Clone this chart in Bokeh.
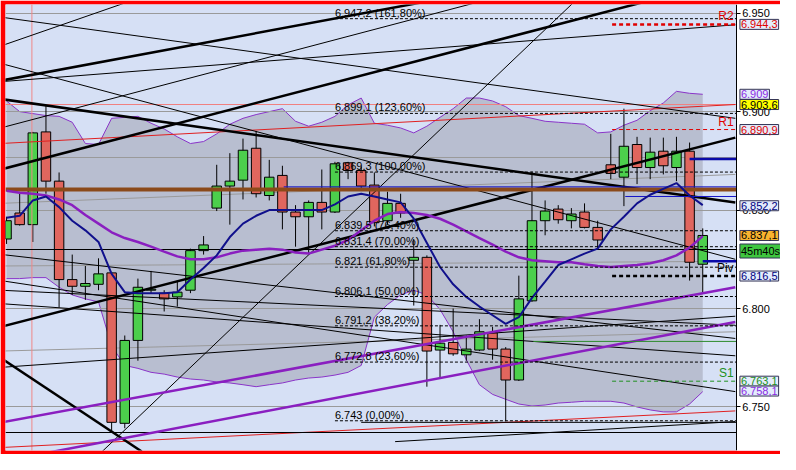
from bokeh.plotting import figure
from bokeh.models import Range1d, LinearAxis, FixedTicker, PrintfTickFormatter, Label
from bokeh.core.properties import value
from bokeh.embed import file_html
from bokeh.resources import INLINE

# ---------------- data ----------------
opens = [6.8353, 6.8485, 6.8426, 6.8897, 6.8647, 6.8147, 6.8113, 6.8123, 6.8181, 6.7417,
         6.7838, 6.8093, 6.8078, 6.8059, 6.8093, 6.8294, 6.8510, 6.8622, 6.8652, 6.8814,
         6.8574, 6.8676, 6.8490, 6.8466, 6.8539, 6.8490, 6.8740, 6.8701, 6.8627, 6.8446,
         6.8534, 6.8245, 6.8260, 6.7789, 6.7828, 6.7765, 6.7789, 6.7877, 6.7794, 6.7637,
         6.8039, 6.8446, 6.8505, 6.8446, 6.8490, 6.8412, 6.8730, 6.8667, 6.8833, 6.8716,
         6.8799, 6.8716, 6.8799, 6.8225]
highs = [6.8466, 6.8583, 6.8897, 6.9034, 6.8691, 6.8274, 6.8216, 6.8255, 6.8186, 6.7863,
         6.8152, 6.8191, 6.8093, 6.8142, 6.8304, 6.8368, 6.8730, 6.8789, 6.8863, 6.8902,
         6.8755, 6.8725, 6.8525, 6.8549, 6.8706, 6.8745, 6.8745, 6.8721, 6.8691, 6.8593,
         6.8583, 6.8353, 6.8270, 6.7917, 6.8000, 6.7863, 6.7946, 6.7907, 6.7804, 6.8167,
         6.8696, 6.8549, 6.8525, 6.8510, 6.8534, 6.8446, 6.8887, 6.9015, 6.8872, 6.8868,
         6.8868, 6.8872, 6.8843, 6.8407]
lows = [6.8328, 6.8421, 6.8338, 6.8583, 6.8005, 6.8069, 6.8044, 6.8093, 6.7368, 6.7392,
        6.7735, 6.8078, 6.7985, 6.8010, 6.8078, 6.8274, 6.8495, 6.8426, 6.8554, 6.8564,
        6.8549, 6.8402, 6.8314, 6.8274, 6.8402, 6.8485, 6.8657, 6.8598, 6.8417, 6.8426,
        6.8461, 6.8015, 6.7603, 6.7642, 6.7760, 6.7735, 6.7784, 6.7740, 6.7427, 6.7632,
        6.8034, 6.8372, 6.8431, 6.8407, 6.8407, 6.8304, 6.8657, 6.8520, 6.8632, 6.8657,
        6.8681, 6.8647, 6.8142, 6.8083]
closes = [6.8446, 6.8426, 6.8892, 6.8647, 6.8147, 6.8113, 6.8127, 6.8176, 6.7422, 6.7838,
          6.8108, 6.8098, 6.8049, 6.8083, 6.8294, 6.8323, 6.8622, 6.8647, 6.8804, 6.8583,
          6.8667, 6.8490, 6.8466, 6.8539, 6.8490, 6.8735, 6.8701, 6.8622, 6.8436, 6.8534,
          6.8485, 6.8260, 6.7784, 6.7824, 6.7770, 6.7794, 6.7882, 6.7794, 6.7637, 6.8049,
          6.8446, 6.8495, 6.8451, 6.8480, 6.8412, 6.8348, 6.8686, 6.8824, 6.8716, 6.8794,
          6.8725, 6.8799, 6.8235, 6.8371]

upper_band = [6.9054, 6.9000, 6.8990, 6.8980, 6.8976, 6.8946, 6.8838, 6.8833, 6.8966, 6.8971,
              6.8976, 6.8941, 6.8912, 6.8872, 6.8838, 6.8848, 6.8887, 6.8936, 6.8966, 6.8985,
              6.9000, 6.9015, 6.8951, 6.8926, 6.8946, 6.8976, 6.9034, 6.9069, 6.8941, 6.8931,
              6.8917, 6.8892, 6.8926, 6.8971, 6.9015, 6.9069, 6.9069, 6.9054, 6.9025, 6.8980,
              6.8966, 6.8951, 6.8946, 6.8941, 6.8936, 6.8892, 6.8897, 6.8931, 6.8956, 6.9005,
              6.9044, 6.9103, 6.9093, 6.9088]
lower_band = [6.8152, 6.8152, 6.8157, 6.8157, 6.8108, 6.8069, 6.8049, 6.8034, 6.7809, 6.7711,
              6.7696, 6.7676, 6.7667, 6.7652, 6.7642, 6.7637, 6.7627, 6.7622, 6.7613, 6.7603,
              6.7613, 6.7622, 6.7637, 6.7647, 6.7652, 6.7662, 6.7676, 6.7711, 6.7956, 6.8020,
              6.8069, 6.8093, 6.8069, 6.7995, 6.7882, 6.7740, 6.7613, 6.7564, 6.7539, 6.7515,
              6.7505, 6.7510, 6.7520, 6.7524, 6.7529, 6.7529, 6.7529, 6.7520, 6.7500, 6.7485,
              6.7475, 6.7475, 6.7515, 6.7578]
ma_purple = [6.8598, 6.8588, 6.8583, 6.8574, 6.8554, 6.8525, 6.8475, 6.8431, 6.8387, 6.8358,
             6.8338, 6.8314, 6.8289, 6.8265, 6.8250, 6.8250, 6.8260, 6.8279, 6.8294, 6.8299,
             6.8304, 6.8299, 6.8284, 6.8279, 6.8299, 6.8319, 6.8348, 6.8397, 6.8446, 6.8480,
             6.8490, 6.8485, 6.8475, 6.8456, 6.8426, 6.8392, 6.8358, 6.8324, 6.8289, 6.8260,
             6.8245, 6.8240, 6.8235, 6.8235, 6.8225, 6.8216, 6.8211, 6.8216, 6.8221, 6.8230,
             6.8245, 6.8270, 6.8309, 6.8368]
ma_blue = [6.8461, 6.8471, 6.8549, 6.8569, 6.8515, 6.8446, 6.8397, 6.8338, 6.8176, 6.8083,
           6.8078, 6.8078, 6.8078, 6.8083, 6.8147, 6.8206, 6.8270, 6.8363, 6.8431, 6.8471,
           6.8500, 6.8500, 6.8500, 6.8500, 6.8500, 6.8529, 6.8569, 6.8583, 6.8569, 6.8554,
           6.8539, 6.8456, 6.8333, 6.8211, 6.8123, 6.8059, 6.8010, 6.7966, 6.7922, 6.7956,
           6.8054, 6.8137, 6.8221, 6.8250, 6.8279, 6.8304, 6.8402, 6.8466, 6.8534, 6.8578,
           6.8608, 6.8637, 6.8574, 6.8525]

tick_values = [6.750, 6.800, 6.850, 6.900, 6.950]

fib_start = 25.0
fib_levels = [6.9472, 6.8991, 6.8693, 6.8395, 6.8314, 6.8210, 6.8061, 6.7912, 6.7728, 6.7430]
fib_texts = ["6.947,2 (161,80%)", "6.899,1 (123,60%)", "6.869,3 (100,00%)", "6.839,5 (76,40%)",
             "6.831,4 (70,00%)", "6.821 (61,80%)", "6.806,1 (50,00%)", "6.791,2 (38,20%)",
             "6.772,8 (23,60%)", "6.743 (0,00%)"]

pivot_start = 46.1
pivot_names = ["R2", "R1", "Piv", "S1"]
pivot_levels = [6.9443, 6.8909, 6.8165, 6.7631]

# trend lines (start index, start price, end index, end price)
thick_x0 = [-0.45, -0.45, -0.45, -0.45, -0.45]
thick_y0 = [6.9157, 6.8706, 6.9064, 6.7907, 6.7750]
thick_x1 = [32.36, 48.95, 55.48, 55.48, 10.29]
thick_y1 = [6.9564, 6.9564, 6.8539, 6.8868, 6.7274]

thin_x0 = [-0.45, -0.45, -0.45, -0.45, 7.06, -0.45, -0.45, -0.45, -0.45, -0.45, -0.45, 29.58, 27.0]
thin_y0 = [6.9333, 6.9480, 6.8917, 6.9152, 6.7260, 6.9245, 6.8275, 6.8093, 6.8025, 6.8142, 6.7701, 6.7324, 6.7422]
thin_x1 = [9.53, 55.48, 36.34, 55.48, 43.32, 55.48, 55.48, 55.48, 55.48, 55.48, 55.48, 55.48, 55.55]
thin_y1 = [6.9564, 6.8966, 6.9564, 6.9441, 6.9564, 6.8250, 6.7848, 6.7915, 6.7760, 6.7578, 6.7961, 6.7426, 6.7422]
thin_flat = [6.8299, 6.7368]

gray_x0 = [-0.45, -0.45, -0.45]
gray_y0 = [6.7784, 6.8534, 6.8216]
gray_x1 = [55.48, 55.48, 55.48]
gray_y1 = [6.7882, 6.8681, 6.8240]
gray_flat = [6.8765]

red_x0 = [-0.45, -0.45]
red_y0 = [6.8838, 6.7294]
red_x1 = [55.48, 55.48]
red_y1 = [6.9036, 6.7480]
pink_level = 6.9036
pink_index = 1.93

purple_x0 = [-0.45, 3.30]
purple_y0 = [6.7421, 6.7270]
purple_x1 = [55.48, 55.48]
purple_y1 = [6.8108, 6.7932]

brown_level = 6.8603
blue_thin_start = [21.1, 47.1]
blue_thin_levels = [6.8618, 6.8569]
blue_thick_start = [52.0, 53.0]
blue_thick_levels = [6.8760, 6.8240]
green_start = 40.1
green_level = 6.7833

box_texts = ["6.944,3", "6.909", "6.903,6", "6.890,9", "6.852,2", "6.837,1", "45m40s",
             "6.816,5", "6.763,1", "6.758,1"]
box_levels = [6.9443, 6.9088, 6.9036, 6.8909, 6.8522, 6.8371, 6.8292, 6.8165, 6.7631, 6.7581]
box_text_colors = ["#e00000", "#8a2be2", "#000000", "#e00000", "#000080", "#000000", "#000000",
                   "#000080", "#209020", "#8a2be2"]
box_fill_colors = ["#e4ecfb", "#e4ecfb", "#ffff00", "#e4ecfb", "#e4ecfb", "#f9b32f", "#3fc63f",
                   "#e4ecfb", "#e4ecfb", "#e4ecfb"]

# ---------------- figure ----------------
AXIS_X = 55.55          # where the price axis sits
X_END = AXIS_X
idx = list(range(len(opens)))

p = figure(width=780, height=454, x_range=Range1d(-0.08, 58.92), y_range=Range1d(6.7279, 6.9544),
           x_axis_location=None, y_axis_location=None, toolbar_location=None,
           output_backend="svg", background_fill_color="#d6e0f5", border_fill_color="#ff0000",
           min_border_left=5, min_border_top=4, min_border_bottom=4, min_border_right=0)
p.outline_line_color = None
p.grid.visible = False

# band
p.varea(x=idx, y1=lower_band, y2=upper_band, fill_color="#b8bed0")
p.line(idx, upper_band, line_color="#8a35c8", line_width=1)
p.line(idx, lower_band, line_color="#8a35c8", line_width=1)

# grid lines
p.hspan(y=tick_values, line_color="#9a9a9a", line_width=1)
p.hspan(y=gray_flat, line_color="#9a9a9a", line_width=1)
p.segment(x0=gray_x0, y0=gray_y0, x1=gray_x1, y1=gray_y1, line_color="#9a9a9a", line_width=1)

# candles
body_top = [max(o, c) for o, c in zip(opens, closes)]
body_bot = [min(o, c) for o, c in zip(opens, closes)]
colors = ["#4ccf4c" if c >= o else "#e0665e" for o, c in zip(opens, closes)]
p.segment(x0=idx, y0=lows, x1=idx, y1=highs, line_color="black", line_width=1)
p.vbar(x=idx, width=0.72, top=body_top, bottom=body_bot, fill_color=colors,
       line_color="black", line_width=1)

# lines
p.segment(x0=[pink_index], y0=[6.70], x1=[pink_index], y1=[6.98], line_color="#f08888", line_width=1)
p.hspan(y=[pink_level], line_color="#f08080", line_width=1)
p.segment(x0=red_x0, y0=red_y0, x1=red_x1, y1=red_y1, line_color="#e02020", line_width=1)
p.segment(x0=thin_x0, y0=thin_y0, x1=thin_x1, y1=thin_y1, line_color="black", line_width=1)
p.hspan(y=thin_flat, line_color="black", line_width=1)
p.segment(x0=thick_x0, y0=thick_y0, x1=thick_x1, y1=thick_y1, line_color="black", line_width=2.5)
p.segment(x0=purple_x0, y0=purple_y0, x1=purple_x1, y1=purple_y1, line_color="#8a1fc0", line_width=2.5)
p.hspan(y=[brown_level], line_color="#8b4a1a", line_width=4)
p.segment(x0=blue_thin_start, y0=blue_thin_levels, x1=[X_END] * 2, y1=blue_thin_levels,
          line_color="#1414c8", line_width=1)
p.segment(x0=blue_thick_start, y0=blue_thick_levels, x1=[X_END] * 2, y1=blue_thick_levels,
          line_color="#0a0aa8", line_width=2.5)
p.segment(x0=[green_start], y0=[green_level], x1=[X_END], y1=[green_level],
          line_color="#2e8b2e", line_width=1)

# moving averages
p.line(idx, ma_purple, line_color="#8a1fc0", line_width=2.5)
p.line(idx, ma_blue, line_color="#10108c", line_width=2)

# fib levels
n_fib = len(fib_levels)
p.segment(x0=[fib_start] * n_fib, y0=fib_levels, x1=[X_END] * n_fib, y1=fib_levels,
          line_color="black", line_width=1, line_dash="3 2")
p.text(x=[fib_start] * n_fib, y=fib_levels, text=fib_texts, text_font=value("Liberation Sans"),
       text_font_size="11px", text_color="black", text_baseline="bottom", text_align="left")

# pivots
pv_colors = ["#e00000", "#e00000", "black", "#209020"]
pv_widths = [2.5, 1, 2.5, 1]
for nm, lv, col, wd in zip(pivot_names, pivot_levels, pv_colors, pv_widths):
    p.segment(x0=[pivot_start], y0=[lv], x1=[X_END], y1=[lv], line_color=col,
              line_width=wd, line_dash="4 3")
p.text(x=[55.35] * 4, y=pivot_levels, text=pivot_names, text_font=value("Liberation Sans"),
       text_font_size="12px", text_color=pv_colors, text_baseline="bottom", text_align="right",
       y_offset=-1)

# white price-scale area to the right of the axis
p.quad(left=[AXIS_X], right=[60.0], bottom=[6.70], top=[6.98], fill_color="white", line_color=None)

# price axis, fixed at the right edge of the chart area
ax = LinearAxis(ticker=FixedTicker(ticks=tick_values), formatter=PrintfTickFormatter(format="%.3f"),
                fixed_location=AXIS_X,
                major_tick_out=4, major_tick_in=0, minor_tick_line_color=None,
                axis_line_color="black", major_tick_line_color="black",
                major_label_text_font="Liberation Sans", major_label_text_font_size="11px",
                major_label_text_color="black", major_label_standoff=2)
p.add_layout(ax, "right")

# right value boxes
for t, lv, tc, fc in zip(box_texts, box_levels, box_text_colors, box_fill_colors):
    lab = Label(x=AXIS_X + 0.28, y=lv, text=t,
                text_font="Liberation Sans", text_font_size="11px",
                text_color=tc, text_baseline="middle", text_align="left",
                background_fill_color=fc, border_line_color="#333355", border_line_width=1,
                level="overlay")
    if "padding" in lab.properties():
        lab.padding = 1
    p.add_layout(lab)

open("out.html", "w").write(file_html(p, INLINE))
